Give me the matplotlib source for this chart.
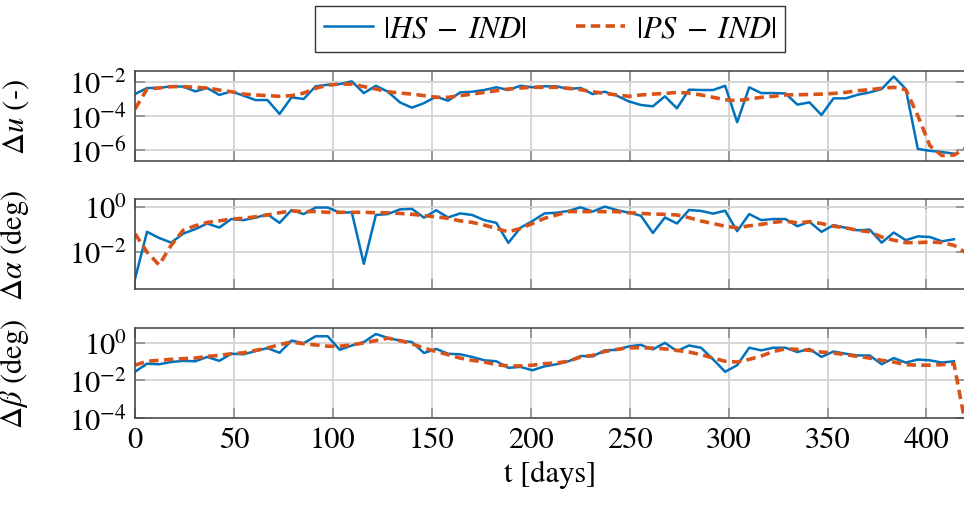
import numpy as np
import matplotlib
matplotlib.use("Agg")
from matplotlib import pyplot as plt

plt.rcParams["font.family"] = "STIXGeneral"
plt.rcParams["mathtext.fontset"] = "stix"
plt.rcParams["font.size"] = 22

# sample times (days), orange series has one more sample at the end
t = np.arange(70) * 420 / 69

# values, as log10 exponents
du_hs = [-2.71, -2.35, -2.35, -2.25, -2.27, -2.55, -2.35, -2.76, -2.55, -2.80,
         -3.06, -3.06, -3.88, -2.90, -3.00, -2.25, -2.16, -2.12, -1.96, -2.65,
         -2.22, -2.57, -3.20, -3.51, -3.24, -2.86, -3.10, -2.61, -2.57, -2.47,
         -2.31, -2.47, -2.22, -2.31, -2.25, -2.25, -2.41, -2.35, -2.71, -2.57,
         -2.80, -3.14, -3.35, -3.43, -2.84, -3.55, -2.45, -2.47, -2.47, -2.22,
         -4.37, -2.31, -2.65, -2.65, -2.67, -3.33, -3.20, -3.94, -2.96, -2.96,
         -2.75, -2.61, -2.41, -1.67, -2.41, -5.94, -6.05, -6.12, -6.22]
du_ps = [-3.59, -2.41, -2.35, -2.27, -2.27, -2.31, -2.35, -2.47, -2.57, -2.71,
         -2.76, -2.80, -2.84, -2.80, -2.65, -2.37, -2.18, -2.12, -2.12, -2.27,
         -2.41, -2.57, -2.65, -2.71, -2.80, -2.90, -2.90, -2.80, -2.71, -2.61,
         -2.51, -2.41, -2.35, -2.31, -2.31, -2.31, -2.37, -2.45, -2.57, -2.67,
         -2.76, -2.84, -2.76, -2.71, -2.67, -2.61, -2.65, -2.76, -2.90, -3.04,
         -3.10, -3.00, -2.90, -2.84, -2.76, -2.75, -2.73, -2.71, -2.67, -2.61,
         -2.51, -2.45, -2.37, -2.31, -2.45, -3.98, -5.75, -6.33, -6.30, -5.88]

da_hs = [-3.18, -1.09, -1.36, -1.57, -1.17, -0.97, -0.72, -0.90, -0.52, -0.57,
         -0.46, -0.31, -0.69, -0.12, -0.30, -0.01, -0.01, -0.24, -0.22, -2.51,
         -0.34, -0.30, -0.09, -0.07, -0.46, -0.13, -0.45, -0.27, -0.34, -0.57,
         -0.69, -1.58, -0.91, -0.61, -0.27, -0.24, -0.16, 0.00, -0.19, 0.03,
         -0.12, -0.24, -0.37, -1.14, -0.45, -0.72, -0.12, -0.16, -0.28, -0.15,
         -1.06, -0.30, -0.57, -0.52, -0.52, -0.84, -0.64, -1.09, -0.79, -0.91,
         -1.02, -0.99, -1.57, -1.12, -1.46, -1.29, -1.32, -1.51, -1.42]
da_ps = [-1.17, -1.99, -2.56, -1.69, -1.02, -0.82, -0.67, -0.60, -0.52, -0.49,
         -0.42, -0.34, -0.24, -0.16, -0.19, -0.19, -0.22, -0.22, -0.22, -0.22,
         -0.24, -0.24, -0.27, -0.31, -0.37, -0.42, -0.49, -0.60, -0.67, -0.79,
         -0.94, -1.09, -0.94, -0.72, -0.49, -0.34, -0.19, -0.19, -0.19, -0.19,
         -0.19, -0.24, -0.27, -0.30, -0.31, -0.34, -0.46, -0.61, -0.72, -0.84,
         -0.91, -0.82, -0.76, -0.67, -0.61, -0.69, -0.64, -0.72, -0.84, -0.91,
         -1.02, -1.09, -1.32, -1.46, -1.57, -1.57, -1.54, -1.57, -1.69, -2.02]

db_hs = [-1.54, -1.11, -1.14, -1.02, -0.96, -0.98, -0.75, -0.96, -0.58, -0.61,
         -0.44, -0.28, -0.53, 0.12, -0.02, 0.35, 0.35, -0.37, -0.14, 0.04,
         0.47, 0.26, 0.12, 0.04, -0.54, -0.32, -0.58, -0.61, -0.75, -0.93,
         -0.98, -1.33, -1.28, -1.46, -1.25, -1.14, -0.98, -0.70, -0.72, -0.40,
         -0.37, -0.19, -0.11, -0.35, 0.00, -0.44, -0.14, -0.26, -0.88, -1.54,
         -1.19, -0.26, -0.40, -0.26, -0.26, -0.49, -0.32, -0.75, -0.46, -0.58,
         -0.67, -0.67, -1.14, -0.81, -1.05, -0.89, -0.93, -1.05, -0.98]
db_ps = [-1.19, -0.98, -0.93, -0.88, -0.84, -0.81, -0.72, -0.67, -0.58, -0.53,
         -0.40, -0.28, -0.09, 0.04, -0.05, -0.11, -0.18, -0.18, -0.11, 0.00,
         0.12, 0.25, 0.12, -0.05, -0.28, -0.46, -0.63, -0.81, -0.93, -1.02,
         -1.16, -1.23, -1.23, -1.19, -1.11, -1.07, -0.98, -0.75, -0.67, -0.46,
         -0.35, -0.26, -0.26, -0.28, -0.32, -0.40, -0.49, -0.63, -0.81, -0.98,
         -1.02, -0.88, -0.70, -0.46, -0.32, -0.35, -0.40, -0.49, -0.54, -0.63,
         -0.72, -0.81, -0.93, -1.02, -1.16, -1.19, -1.19, -1.16, -1.11, -4.5]

panels = [
    (du_hs, du_ps, r"$\Delta u$ (-)", (10**-6.65, 10**-1.35), [1e-6, 1e-4, 1e-2]),
    (da_hs, da_ps, r"$\Delta \alpha$ (deg)", (10**-3.63, 10**0.37), [1e-2, 1e0]),
    (db_hs, db_ps, r"$\Delta \beta$ (deg)", (10**-4.0, 10**0.79), [1e-4, 1e-2, 1e0]),
]

blue = "#0072BD"
orange = "#D95319"

fig = plt.figure(figsize=(9.64, 5.10), dpi=100)
bottoms = [1 - 162 / 510, 1 - 290 / 510, 1 - 419 / 510]
axes = []
for (hs, ps, lab, ylim, yt), b in zip(panels, bottoms):
    ax = fig.add_axes([135 / 964, b, 831 / 964, 90 / 510])
    l1, = ax.plot(t[:len(hs)], 10 ** np.array(hs), color=blue, lw=1.8,
                  label=r"$|HS\;-\;IND|$")
    l2, = ax.plot(t[:len(ps)], 10 ** np.array(ps), color=orange, lw=2.6,
                  ls=(0, (2.6, 1.5)), label=r"$|PS\;-\;IND|$")
    ax.set_yscale("log")
    ax.set_xlim(0, 420)
    ax.set_ylim(*ylim)
    ax.set_yticks(yt)
    ax.minorticks_off()
    ax.set_xticks(range(0, 401, 50))
    ax.grid(True, color="#d4d4d4", lw=1.3)
    ax.set_axisbelow(True)
    ax.tick_params(direction="in", length=7, width=1.2, color="#8c8c8c",
                   top=True, right=True, labelsize=22, pad=6)
    for s in ax.spines.values():
        s.set_color("#404040")
        s.set_linewidth(1.1)
    ax.set_ylabel(lab, fontsize=22)
    ax.yaxis.set_label_coords(-0.125, 0.5)
    axes.append(ax)

for ax in axes[:-1]:
    ax.tick_params(labelbottom=False)
axes[-1].set_xlabel("t [days]", fontsize=22, labelpad=4)

leg = fig.legend([l1, l2], [l1.get_label(), l2.get_label()], loc="center",
                 bbox_to_anchor=(550 / 964, 1 - 30 / 510), ncol=2, fontsize=22,
                 frameon=True, fancybox=False, edgecolor="black",
                 handlelength=1.6, handletextpad=0.35, columnspacing=1.6,
                 borderpad=0.3, borderaxespad=0)
leg.get_frame().set_linewidth(1.0)

plt.savefig("out.png", dpi=100)
